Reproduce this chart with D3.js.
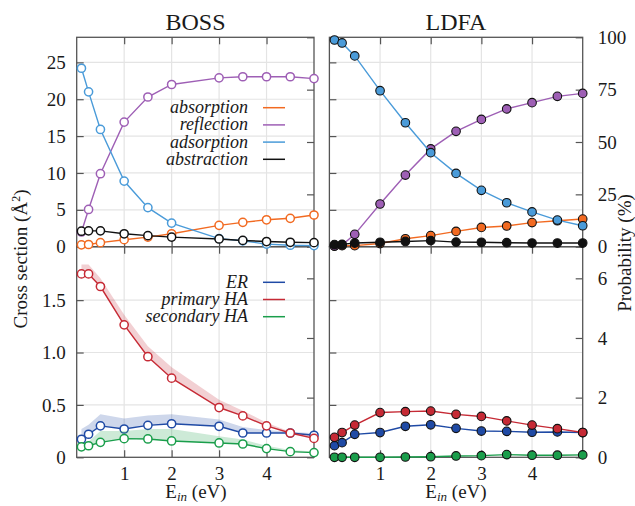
<!doctype html>
<html lang="en">
  <head>
    <meta charset="utf-8">
    <title>BOSS vs LDFA cross sections</title>
    <script src="https://d3js.org/d3.v7.min.js"></script>
    <style>
      body{
        margin: 0;
        background-color: #fff;
      }
      svg text{
        font-family: "Liberation Serif", "Times New Roman", "DejaVu Serif", serif;
        fill: #1a1a1a;
      }
    </style>
  </head>
  <body>
    <svg id="chart" width="635" height="506"></svg>
    <script>

      //incidence energies (eV)
      var bossE = [0.1, 0.25, 0.5, 1, 1.5, 2, 3, 3.5, 4, 4.5, 5];
      var ldfaE = [0.1, 0.25, 0.5, 1, 1.5, 2, 2.5, 3, 3.5, 4, 4.5, 5];

      //BOSS channels, cross section in Å²
      var bossAbsorption = [0.25, 0.3, 0.55, 0.95, 1.3, 1.75, 2.9, 3.3, 3.65, 3.85, 4.3];
      var bossReflection = [2.0, 5.05, 9.9, 16.9, 20.3, 22.0, 22.9, 23.05, 23.05, 23.05, 22.8];
      var bossAdsorption = [24.2, 21.0, 15.9, 8.9, 5.3, 3.2, 1.1, 0.8, 0.35, 0.2, 0.15];
      var bossAbstraction = [2.1, 2.15, 2.15, 1.75, 1.5, 1.3, 1.05, 0.85, 0.7, 0.6, 0.55];

      //LDFA channels, probability in %
      var ldfaAbsorption = [0.3, 0.5, 0.5, 1.5, 3.8, 5.3, 7.3, 9.2, 9.9, 11.5, 12.4, 13.2];
      var ldfaReflection = [0.3, 0.8, 5.9, 20.4, 34.2, 46.7, 55.1, 60.8, 65.8, 68.8, 71.8, 73.2];
      var ldfaAdsorption = [98.7, 97.3, 91.1, 74.5, 59.2, 44.9, 35.0, 26.9, 21.0, 16.6, 12.7, 10.0];
      var ldfaAbstraction = [1.0, 1.1, 1.75, 2.1, 2.5, 2.9, 2.2, 2.1, 1.9, 1.75, 1.75, 1.75];

      //BOSS abstraction split, cross section in Å², with upper edge of the shaded band
      var bossER = [0.172, 0.22, 0.30, 0.27, 0.305, 0.32, 0.296, 0.232, 0.232, 0.232, 0.21];
      var bossERUpper = [0.27, 0.31, 0.41, 0.37, 0.40, 0.41, 0.36, 0.29, 0.26, 0.245, 0.23];
      var bossPrimaryHA = [1.75, 1.75, 1.63, 1.264, 0.96, 0.755, 0.475, 0.395, 0.3, 0.232, 0.18];
      var bossPrimaryHAUpper = [1.84, 1.84, 1.71, 1.36, 1.06, 0.86, 0.55, 0.445, 0.33, 0.245, 0.2];
      var bossSecondaryHA = [0.10, 0.11, 0.143, 0.178, 0.175, 0.156, 0.137, 0.127, 0.083, 0.054, 0.045];
      var bossSecondaryHAUpper = [0.13, 0.15, 0.25, 0.25, 0.27, 0.27, 0.2, 0.17, 0.11, 0.07, 0.055];

      //LDFA abstraction split, probability in %
      var ldfaER = [0.39, 0.49, 0.77, 0.83, 1.04, 1.09, 0.97, 0.88, 0.87, 0.84, 0.85, 0.83];
      var ldfaPrimaryHA = [0.67, 0.83, 1.08, 1.50, 1.53, 1.55, 1.44, 1.37, 1.22, 1.08, 0.96, 0.83];
      var ldfaSecondaryHA = [0.0, 0.0, 0.0, 0.0, 0.01, 0.02, 0.045, 0.055, 0.09, 0.07, 0.07, 0.08];

      //tick values
      var xTicks = [1, 2, 3, 4];
      var topTicks = [0, 5, 10, 15, 20, 25];
      var topProbTicks = [0, 25, 50, 75, 100];
      var bottomTicks = [0, 0.5, 1, 1.5];
      var bottomProbTicks = [0, 2, 4, 6];

      var colors = {
        absorption: "#f26a21",
        reflection: "#9e5fb5",
        adsorption: "#4a9bd9",
        abstraction: "#111111",
        er: "#1f4aa5",
        primary: "#c62a35",
        secondary: "#1a9e4b"
      };

      var serif = "'Liberation Serif', 'Times New Roman', 'DejaVu Serif', serif";

      var svg = d3.select("#chart");

      //panel geometry
      var xLeft = d3.scaleLinear().domain([0, 5]).range([76.7, 314]);
      var xRight = d3.scaleLinear().domain([0, 5]).range([329.4, 582.7]);
      var yTop = d3.scaleLinear().domain([0, 28.4]).range([246.7, 37.3]);
      var y2Top = d3.scaleLinear().domain([0, 100]).range([246.7, 37.3]);
      var yBottom = d3.scaleLinear().domain([0, 2.01]).range([457.3, 246.7]);
      var y2Bottom = d3.scaleLinear().domain([0, 7.06]).range([457.3, 246.7]);

      var fmtBottom = function(d){ return d === 0 ? "0" : d3.format(".1f")(d); };

      var panels = [
        {x: xLeft, y: yTop, y2: y2Top, yTicks: topTicks, y2Ticks: topProbTicks, left: true, right: false, bottom: false, fmt: d3.format("d")},
        {x: xRight, y: yTop, y2: y2Top, yTicks: topTicks, y2Ticks: topProbTicks, left: false, right: true, bottom: false, fmt: d3.format("d")},
        {x: xLeft, y: yBottom, y2: y2Bottom, yTicks: bottomTicks, y2Ticks: bottomProbTicks, left: true, right: false, bottom: true, fmt: fmtBottom},
        {x: xRight, y: yBottom, y2: y2Bottom, yTicks: bottomTicks, y2Ticks: bottomProbTicks, left: false, right: true, bottom: true, fmt: fmtBottom}
      ];

      var tickLen = 7;

      panels.forEach(function(p){
        var x0 = p.x.range()[0], x1 = p.x.range()[1];
        var yb = p.y.range()[0], yt = p.y.range()[1];
        var g = svg.append("g");

        //grid lines
        g.append("g").selectAll("line")
          .data(xTicks).enter().append("line")
          .attr("x1", function(d){ return p.x(d); })
          .attr("x2", function(d){ return p.x(d); })
          .attr("y1", yb).attr("y2", yt)
          .style("stroke", "#e4e4e4").style("stroke-width", 1.2);
        g.append("g").selectAll("line")
          .data(p.yTicks.filter(function(d){ return d > 0; })).enter().append("line")
          .attr("x1", x0).attr("x2", x1)
          .attr("y1", function(d){ return p.y(d); })
          .attr("y2", function(d){ return p.y(d); })
          .style("stroke", "#e4e4e4").style("stroke-width", 1.2);

        //axes, ticks pointing inwards on every side
        var axisStyle = function(a, showLabels){
          a.attr("font-family", serif).attr("font-size", 19);
          a.select(".domain").remove();
          a.selectAll(".tick line").style("stroke", "#555").style("stroke-width", 1.2);
          if(showLabels){
            a.selectAll(".tick text")
              .style("font-size", "19px")
              .style("font-family", serif)
              .style("fill", "#1a1a1a");
          } else {
            a.selectAll(".tick text").remove();
          }
        };

        g.append("g").attr("transform", "translate(" + x0 + ",0)")
          .call(d3.axisLeft(p.y).tickValues(p.yTicks).tickFormat(p.fmt).tickSizeInner(-tickLen).tickSizeOuter(0).tickPadding(11))
          .call(axisStyle, p.left);
        g.append("g").attr("transform", "translate(" + x1 + ",0)")
          .call(d3.axisRight(p.y2).tickValues(p.y2Ticks).tickFormat(d3.format("d")).tickSizeInner(-tickLen).tickSizeOuter(0).tickPadding(15))
          .call(axisStyle, p.right);
        g.append("g").attr("transform", "translate(0," + yb + ")")
          .call(d3.axisBottom(p.x).tickValues(xTicks).tickFormat(d3.format("d")).tickSizeInner(-tickLen).tickSizeOuter(0).tickPadding(9))
          .call(axisStyle, p.bottom);
        g.append("g").attr("transform", "translate(0," + yt + ")")
          .call(d3.axisTop(p.x).tickValues(xTicks).tickSizeInner(-tickLen).tickSizeOuter(0))
          .call(axisStyle, false);
      });

      //draw one channel: optional band, line and markers
      var drawSeries = function(x, y, energies, values, color, filled, upper){
        var pts = energies.map(function(e, i){ return {e: e, v: values[i], u: upper ? upper[i] : null}; });
        var g = svg.append("g");

        if(upper){
          g.append("path")
            .datum(pts)
            .attr("d", d3.area()
              .x(function(d){ return x(d.e); })
              .y0(function(d){ return y(d.v); })
              .y1(function(d){ return y(d.u); }))
            .style("fill", color)
            .style("fill-opacity", 0.22)
            .style("stroke", "none");
        }

        g.append("path")
          .datum(pts)
          .attr("d", d3.line()
            .x(function(d){ return x(d.e); })
            .y(function(d){ return y(d.v); }))
          .style("fill", "none")
          .style("stroke", color)
          .style("stroke-width", 1.4);

        g.selectAll("circle")
          .data(pts).enter().append("circle")
          .attr("cx", function(d){ return x(d.e); })
          .attr("cy", function(d){ return y(d.v); })
          .attr("r", filled ? 4.3 : 4.1)
          .style("fill", filled ? color : "#fff")
          .style("stroke", filled ? "#111" : color)
          .style("stroke-width", filled ? 1.1 : 1.5);
      };

      //borders over the grid, under the data
      panels.forEach(function(p){
        var x0 = p.x.range()[0], x1 = p.x.range()[1];
        var yb = p.y.range()[0], yt = p.y.range()[1];
        svg.append("rect")
          .attr("x", x0).attr("y", yt)
          .attr("width", x1 - x0).attr("height", yb - yt)
          .style("fill", "none")
          .style("stroke", "#555")
          .style("stroke-width", 1.3);
      });

      //top left: BOSS
      drawSeries(xLeft, yTop, bossE, bossAbsorption, colors.absorption, false);
      drawSeries(xLeft, yTop, bossE, bossReflection, colors.reflection, false);
      drawSeries(xLeft, yTop, bossE, bossAdsorption, colors.adsorption, false);
      drawSeries(xLeft, yTop, bossE, bossAbstraction, colors.abstraction, false);

      //top right: LDFA
      drawSeries(xRight, y2Top, ldfaE, ldfaAbsorption, colors.absorption, true);
      drawSeries(xRight, y2Top, ldfaE, ldfaReflection, colors.reflection, true);
      drawSeries(xRight, y2Top, ldfaE, ldfaAdsorption, colors.adsorption, true);
      drawSeries(xRight, y2Top, ldfaE, ldfaAbstraction, colors.abstraction, true);

      //bottom left: BOSS abstraction mechanisms
      drawSeries(xLeft, yBottom, bossE, bossER, colors.er, false, bossERUpper);
      drawSeries(xLeft, yBottom, bossE, bossPrimaryHA, colors.primary, false, bossPrimaryHAUpper);
      drawSeries(xLeft, yBottom, bossE, bossSecondaryHA, colors.secondary, false, bossSecondaryHAUpper);

      //bottom right: LDFA abstraction mechanisms
      drawSeries(xRight, y2Bottom, ldfaE, ldfaER, colors.er, true);
      drawSeries(xRight, y2Bottom, ldfaE, ldfaPrimaryHA, colors.primary, true);
      drawSeries(xRight, y2Bottom, ldfaE, ldfaSecondaryHA, colors.secondary, true);

      //legends
      var drawLegend = function(items, top){
        var lg = svg.append("g")
          .selectAll("g")
          .data(items).enter().append("g")
          .attr("transform", function(d, i){ return "translate(0," + (top + i * 17.2) + ")"; });
        lg.append("text")
          .attr("x", 248)
          .attr("y", 0)
          .attr("dy", "0.3em")
          .attr("text-anchor", "end")
          .style("font-family", serif)
          .style("font-size", "18px")
          .style("font-style", "italic")
          .text(function(d){ return d.name; });
        lg.append("line")
          .attr("x1", 263).attr("x2", 285)
          .attr("y1", 0).attr("y2", 0)
          .style("stroke", function(d){ return d.color; })
          .style("stroke-width", 1.5);
      };

      drawLegend([
        {name: "absorption", color: colors.absorption},
        {name: "reflection", color: colors.reflection},
        {name: "adsorption", color: colors.adsorption},
        {name: "abstraction", color: colors.abstraction}
      ], 107.7);

      drawLegend([
        {name: "ER", color: colors.er},
        {name: "primary HA", color: colors.primary},
        {name: "secondary HA", color: colors.secondary}
      ], 282.3);

      //titles
      svg.append("text").attr("x", 195.5).attr("y", 30).attr("text-anchor", "middle")
        .style("font-family", serif).style("font-size", "24px").text("BOSS");
      svg.append("text").attr("x", 456).attr("y", 30).attr("text-anchor", "middle")
        .style("font-family", serif).style("font-size", "24px").text("LDFA");

      //axis titles
      var xTitle = function(cx){
        var t = svg.append("text").attr("x", cx).attr("y", 498).attr("text-anchor", "middle")
          .style("font-family", serif).style("font-size", "19px");
        t.append("tspan").text("E");
        t.append("tspan").attr("dy", 3).style("font-size", "13px").style("font-style", "italic").text("in");
        t.append("tspan").attr("dy", -3).text(" (eV)");
      };
      xTitle(196);
      xTitle(456);

      var yTitle = svg.append("text")
        .attr("transform", "translate(27,259) rotate(-90)")
        .attr("text-anchor", "middle")
        .style("font-family", serif)
        .style("font-size", "19px");
      yTitle.append("tspan").text("Cross section (Å");
      yTitle.append("tspan").attr("dy", -7).style("font-size", "12px").text("2");
      yTitle.append("tspan").attr("dy", 7).text(")");

      svg.append("text")
        .attr("transform", "translate(631,253) rotate(-90)")
        .attr("text-anchor", "middle")
        .style("font-family", serif)
        .style("font-size", "19px")
        .text("Probability (%)");

    </script>
  </body>
</html>
